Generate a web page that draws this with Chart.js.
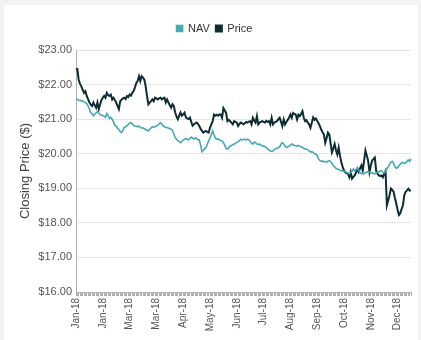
<!DOCTYPE html>
<html>
<head>
<meta charset="utf-8">
<script src="https://cdn.jsdelivr.net/npm/chart.js@4.4.1/dist/chart.umd.min.js"></script>
<style>
  html, body { margin: 0; padding: 0; background: #f3f3f3; }
  #panel { position: absolute; left: 4px; top: 5px; width: 414px; height: 335px; background: #ffffff; }
</style>
</head>
<body>
<div id="panel"><canvas id="chart"></canvas></div>
<script>
// Daily closing values for 2018 (one value per trading day)
const tickLabels = ['Jan-18','Jan-18','Mar-18','Mar-18','Apr-18','May-18','Jun-18','Jul-18','Aug-18','Sep-18','Oct-18','Nov-18','Dec-18'];
const labelEvery = 20;

const navValues = [
  21.59,21.57,21.55,21.53,21.54,21.52,21.50,21.48,21.45,21.38,
  21.30,21.18,21.16,21.10,21.14,21.18,21.22,21.18,21.13,21.12,
  21.10,21.08,21.05,21.16,21.10,21.02,21.05,21.00,20.92,20.82,
  20.80,20.74,20.70,20.64,20.61,20.68,20.76,20.78,20.81,20.85,
  20.88,20.90,20.86,20.82,20.80,20.80,20.78,20.80,20.76,20.74,
  20.75,20.72,20.70,20.68,20.66,20.70,20.75,20.78,20.76,20.78,
  20.80,20.82,20.86,20.90,20.86,20.80,20.78,20.76,20.76,20.74,
  20.73,20.71,20.68,20.57,20.47,20.42,20.38,20.35,20.32,20.36,
  20.40,20.42,20.44,20.42,20.40,20.44,20.48,20.45,20.42,20.46,
  20.44,20.40,20.40,20.25,20.06,20.10,20.14,20.18,20.28,20.37,
  20.45,20.56,20.66,20.55,20.45,20.42,20.43,20.40,20.38,20.37,
  20.32,20.25,20.16,20.13,20.18,20.22,20.24,20.26,20.28,20.30,
  20.32,20.35,20.38,20.42,20.40,20.41,20.42,20.40,20.42,20.40,
  20.36,20.30,20.28,20.34,20.32,20.28,20.27,20.28,20.25,20.23,
  20.22,20.20,20.18,20.13,20.11,20.08,20.07,20.08,20.12,20.15,
  20.16,20.18,20.20,20.28,20.32,20.28,20.22,20.18,20.20,20.22,
  20.25,20.28,20.26,20.24,20.23,20.22,20.24,20.22,20.20,20.18,
  20.16,20.14,20.13,20.11,20.08,20.05,20.06,20.04,20.00,19.99,
  19.95,19.85,19.80,19.78,19.79,19.76,19.78,19.76,19.78,19.80,
  19.78,19.72,19.66,19.62,19.58,19.56,19.55,19.52,19.51,19.50,
  19.49,19.48,19.46,19.44,19.42,19.45,19.50,19.56,19.50,19.54,
  19.60,19.52,19.45,19.42,19.44,19.42,19.45,19.47,19.48,19.46,
  19.44,19.45,19.43,19.42,19.45,19.46,19.48,19.50,19.51,19.46,
  19.44,19.50,19.56,19.62,19.70,19.75,19.78,19.72,19.62,19.58,
  19.60,19.66,19.70,19.74,19.75,19.72,19.73,19.78,19.82,19.78,19.86
];

const priceValues = [
  22.43,22.45,22.14,22.02,21.95,21.85,21.76,21.81,21.67,21.58,
  21.49,21.42,21.38,21.48,21.40,21.33,21.48,21.29,21.43,21.55,
  21.62,21.67,21.62,21.76,21.70,21.67,21.71,21.57,21.62,21.55,
  21.48,21.38,21.29,21.52,21.56,21.60,21.62,21.58,21.67,21.64,
  21.71,21.68,21.76,21.81,21.92,22.05,22.10,22.24,22.10,22.24,
  22.20,22.14,21.95,21.67,21.43,21.48,21.52,21.57,21.52,21.62,
  21.60,21.57,21.60,21.62,21.57,21.60,21.62,21.48,21.57,21.48,
  21.40,21.33,21.43,21.38,21.19,21.08,21.00,21.10,21.19,21.10,
  21.14,21.19,21.05,21.02,21.00,21.04,20.92,20.81,20.85,20.88,
  20.90,20.86,20.80,20.72,20.66,20.61,20.64,20.66,20.63,20.61,
  20.75,20.85,20.94,21.13,21.10,21.13,21.10,21.14,21.13,21.04,
  21.32,21.25,21.18,20.94,20.98,20.94,20.90,20.85,20.94,20.92,
  20.90,20.80,20.86,20.90,20.88,20.85,20.88,20.92,20.90,20.93,
  20.94,20.85,21.04,20.96,20.90,21.09,20.85,20.90,20.92,20.94,
  20.92,20.90,20.95,20.92,20.94,20.85,21.04,20.85,20.90,20.92,
  20.94,21.00,21.04,20.92,20.80,20.99,20.85,20.92,20.98,21.04,
  21.13,21.04,21.18,21.15,21.13,20.99,21.13,21.09,21.15,21.23,
  21.04,20.94,20.97,20.90,20.85,20.75,20.90,21.05,20.98,21.02,
  20.95,20.88,20.80,20.70,20.62,20.56,20.32,20.45,20.61,20.56,
  20.30,20.04,20.15,20.28,20.10,19.98,20.18,19.95,19.75,19.62,
  19.51,19.46,19.44,19.42,19.32,19.47,19.28,19.33,19.37,19.45,
  19.56,19.47,19.58,19.66,19.51,19.80,20.09,19.95,19.80,19.47,
  19.66,19.80,19.85,19.89,19.51,19.42,19.37,19.35,19.37,19.32,
  19.42,19.50,18.51,18.65,18.80,18.99,18.95,18.90,18.72,18.56,
  18.38,18.23,18.28,18.40,18.51,18.80,18.90,18.94,18.99,18.93,18.94
];

const categories = navValues.map((_, i) => (i % labelEvery === 0 ? tickLabels[i / labelEvery] : ''));

const NAV_COLOR = '#46a9b4';
const PRICE_COLOR = '#0e2c33';
const FONT = '"Liberation Sans", Arial, sans-serif';

// Adds room below the legend
const legendSpacing = {
  id: 'legendSpacing',
  beforeInit(chart) {
    const fit = chart.legend.fit;
    chart.legend.fit = function () {
      fit.call(this);
      this.height += 6;
    };
  }
};

new Chart(document.getElementById('chart'), {
  type: 'line',
  data: {
    labels: categories,
    datasets: [
      {
        label: 'NAV',
        data: navValues,
        borderColor: NAV_COLOR,
        backgroundColor: NAV_COLOR,
        borderWidth: 1.6,
        pointRadius: 0,
        tension: 0
      },
      {
        label: 'Price',
        data: priceValues,
        borderColor: PRICE_COLOR,
        backgroundColor: PRICE_COLOR,
        borderWidth: 2,
        pointRadius: 0,
        tension: 0
      }
    ]
  },
  options: {
    responsive: true,
    maintainAspectRatio: false,
    animation: false,
    layout: { padding: { top: 12, left: 14, right: 7, bottom: 0 } },
    plugins: {
      legend: {
        position: 'top',
        labels: {
          boxWidth: 6,
          boxHeight: 6,
          padding: 6,
          color: '#333',
          font: { family: FONT, size: 11 }
        }
      },
      tooltip: { enabled: false }
    },
    scales: {
      x: {
        type: 'category',
        grid: { display: true, drawOnChartArea: false, drawTicks: true, tickLength: 4, color: '#b0b0b0' },
        border: { display: true, color: '#b0b0b0' },
        ticks: {
          autoSkip: false,
          minRotation: 90,
          maxRotation: 90,
          padding: 2,
          color: '#555',
          font: { family: FONT, size: 10 }
        },
        afterFit(scale) {
          scale.height = 48;
          scale.paddingLeft = 0;
          scale.paddingRight = 0;
        }
      },
      y: {
        min: 16,
        max: 23,
        ticks: {
          stepSize: 1,
          padding: 4,
          color: '#555',
          font: { family: FONT, size: 11 },
          callback: v => '$' + Number(v).toFixed(2)
        },
        grid: { color: '#e6e6e6', drawTicks: false },
        border: { display: true, color: '#b0b0b0' },
        title: {
          display: true,
          text: 'Closing Price ($)',
          color: '#444',
          font: { family: FONT, size: 13 },
          padding: { top: 0, bottom: 0 }
        },
        afterFit(scale) { scale.width = 58; }
      }
    }
  },
  plugins: [legendSpacing]
});
</script>
</body>
</html>
